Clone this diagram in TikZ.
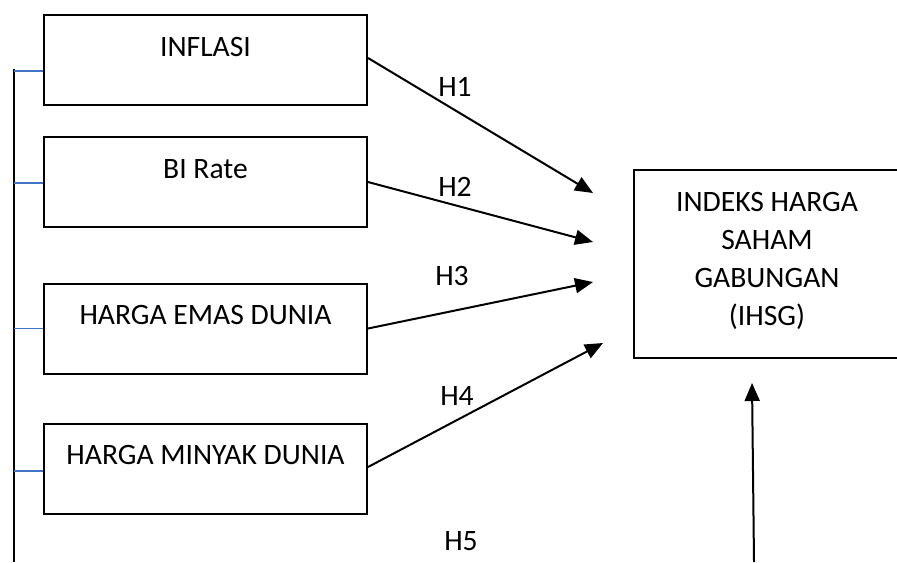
\documentclass[tikz,border=0pt]{standalone}
\usepackage{fontspec}
\setmainfont{Carlito}
\usepackage{xcolor}
\definecolor{wordblue}{HTML}{4472C4}
\usetikzlibrary{arrows.meta, calc}

\begin{document}
\begin{tikzpicture}[x=0.5pt, y=-0.5pt, font=\fontsize{14.8}{19}\selectfont,
    varbox/.style={draw, line width=1pt, minimum width=161.5pt, inner sep=0pt, text height=20.5pt, text depth=24.5pt},
    hyp/.style={-{Triangle[length=9pt,width=7.5pt]}, line width=1pt},
    link/.style={draw=wordblue, line width=0.6pt}]
    \clip (0,0) rectangle (897,562);

    \node[varbox] (inflasi) at (205.5,60) {INFLASI};
    \node[varbox] (birate) at (205.5,182) {BI Rate};
    \node[varbox] (emas) at (205.5,328.5) {HARGA EMAS DUNIA};
    \node[varbox] (minyak) at (205.5,468.5) {HARGA MINYAK DUNIA};

    \node[draw, line width=1pt, minimum width=133pt, minimum height=94pt, inner sep=0pt] (ihsg) at (767,264) {};
    \node[anchor=north, align=center, inner sep=0pt] (ihsgtext) at (767,192) {INDEKS HARGA\\SAHAM\\GABUNGAN\\(IHSG)};

    \coordinate (spinetop) at (14,69);
    \coordinate (spinebot) at (14,562);
    \draw[line width=1pt] (spinetop) -- (spinebot);
    \draw[link] ([yshift=-5.5pt]inflasi.west) -- ++(-29,0);
    \draw[link] ([yshift=-0.5pt]birate.west) -- ++(-29,0);
    \draw[link] (emas.west) -- ++(-29,0);
    \draw[link] ([yshift=-1.25pt]minyak.west) -- ++(-29,0);

    \coordinate (tip1) at (593,193);
    \coordinate (tip2) at (593,242);
    \coordinate (tip3) at (593,282);
    \coordinate (tip4) at (603,343);
    \coordinate (h5foot) at (754,562);
    \coordinate (tip5) at (752,383);

    \draw[hyp] ([yshift=1pt]inflasi.east) -- (tip1);
    \draw[hyp] (birate.east) -- (tip2);
    \draw[hyp] (emas.east) -- (tip3);
    \draw[hyp] ([yshift=0.75pt]minyak.east) -- (tip4);
    \draw[hyp] (h5foot) -- (tip5);

    \node (h1) at (455,87) {H1};
    \node (h2) at (455,187) {H2};
    \node (h3) at (452,276) {H3};
    \node (h4) at (457,396) {H4};
    \node (h5) at (461,541) {H5};
\end{tikzpicture}
\end{document}
